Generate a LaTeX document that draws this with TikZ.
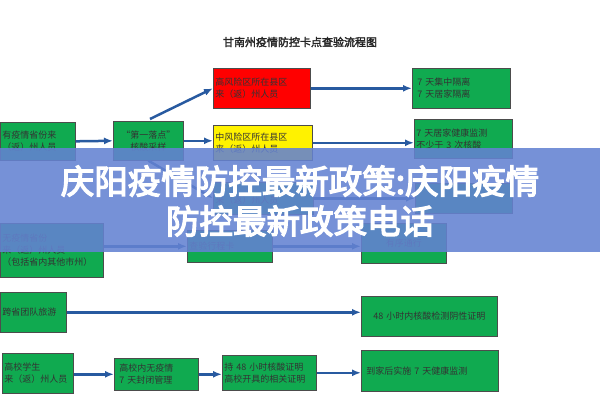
\documentclass[tikz,border=0pt]{standalone}
\usepackage{fontspec}
\setmainfont{Noto Sans CJK SC}
\newfontfamily\cjkb{Noto Sans CJK SC}[FakeBold=2.5]
\newfontfamily\cjkbb{Noto Sans CJK SC}[FakeBold=4]
\usetikzlibrary{arrows.meta}
\definecolor{bx}{RGB}{16,170,80}
\definecolor{ar}{RGB}{40,90,160}
\definecolor{band}{RGB}{100,130,210}
\begin{document}
\begin{tikzpicture}[x=1pt,y=-1pt,
 box/.style={draw=black!70,line width=0.6pt,fill=bx,anchor=north west,inner sep=2pt,align=left,font=\fontsize{9}{12}\selectfont,text=black!80},
 arr/.style={draw=ar,line width=2.5pt,-{Latex[length=9pt,width=7pt]}}]
\useasboundingbox (0,0) rectangle (600,400);
\fill[white] (0,0) rectangle (600,400);
\node[font=\fontsize{11}{12}\selectfont\cjkb,text=black!85] (title) at (300,42) {甘南州疫情防控卡点查验流程图};
\node[box,minimum width=75pt,minimum height=38pt,text width=71pt] (a) at (0,122) {有疫情省份来\\（返）州人员};
\node[box,minimum width=70pt,minimum height=39pt,text width=66pt,align=center] (b) at (113,121) {“第一落点”\\核酸采样};
\node[box,fill=red,minimum width=97pt,minimum height=40pt,text width=93pt] (r) at (213,68) {高风险区所在县区\\来（返）州人员};
\node[box,fill=yellow,minimum width=99pt,minimum height=35pt,text width=95pt] (y) at (213,125) {中风险区所在县区\\来（返）州人员};
\node[box,minimum width=100pt,minimum height=32pt,text width=96pt] (l) at (213,182) {\\来（返）州人员};
\node[box,minimum width=98pt,minimum height=40pt,text width=94pt] (r1) at (412,68) {\ 7 天集中隔离\\\ 7 天居家隔离};
\node[box,minimum width=98pt,minimum height=39pt,text width=94pt] (r2) at (414,119) {7 天居家健康监测\\不少于 3 次核酸};
\node[box,minimum width=97pt,minimum height=30pt] (r3) at (415,183) {};
\node[box,minimum width=103pt,minimum height=54pt,text width=99pt] (c) at (0,223) {无疫情省份\\来（返）州人员\\（包括省内其他市州）};
\node[box,minimum width=85pt,minimum height=32pt,text width=81pt] (d) at (187,230) {查验行程卡};
\node[box,minimum width=85pt,minimum height=40pt,text width=81pt,align=center] (e) at (361,223) {有序通行};
\node[box,minimum width=66pt,minimum height=40pt,text width=62pt] (f) at (0,292) {跨省团队旅游};
\node[box,minimum width=136pt,minimum height=40pt,text width=132pt,align=center] (g) at (361,296) {48 小时内核酸检测阴性证明};
\node[box,minimum width=71pt,minimum height=40pt,text width=67pt] (h) at (2,353) {高校学生\\来（返）州人员};
\node[box,minimum width=84pt,minimum height=32pt,text width=80pt] (i) at (114,358) {\ 高校内无疫情\\\ 7 天封闭管理};
\node[box,minimum width=94pt,minimum height=35pt,text width=90pt] (j) at (222,355) {持 48 小时核酸证明\\高校开具的相关证明};
\node[box,minimum width=137pt,minimum height=41pt,text width=133pt] (k) at (361,350) {\ 到家后实施 7 天健康监测\\ };
\coordinate (b1) at (150,119);
\draw[arr] (a.east) -- (b.west);
\draw[arr] (b1) -- (r.west);
\draw[arr] (b.east) -- (y.west |- b.east);
\draw[arr] (b.south) -- (l.west);
\draw[arr] (r.east) -- (r1.west);
\draw[arr] (y.east) -- (r2.west |- y.east);
\draw[arr] (l.east) -- (r3.west |- l.east);
\draw[arr] (c.east |- d.center) -- (d.west);
\draw[arr] (d.east) -- (e.west |- d.east);
\draw[arr] (f.east) -- (g.west |- f.east);
\draw[arr] (h.east |- i.center) -- (i.west);
\draw[arr] (i.east) -- (j.west |- i.east);
\draw[arr] (j.east) -- (k.west |- j.east);
\fill[band,opacity=0.88] (0,148) rectangle (600,252);
\node[font=\fontsize{33.5}{40}\selectfont\cjkbb,text=white,align=center] (banner) at (300,201) {庆阳疫情防控最新政策:庆阳疫情\\防控最新政策电话};
\end{tikzpicture}
\end{document}
